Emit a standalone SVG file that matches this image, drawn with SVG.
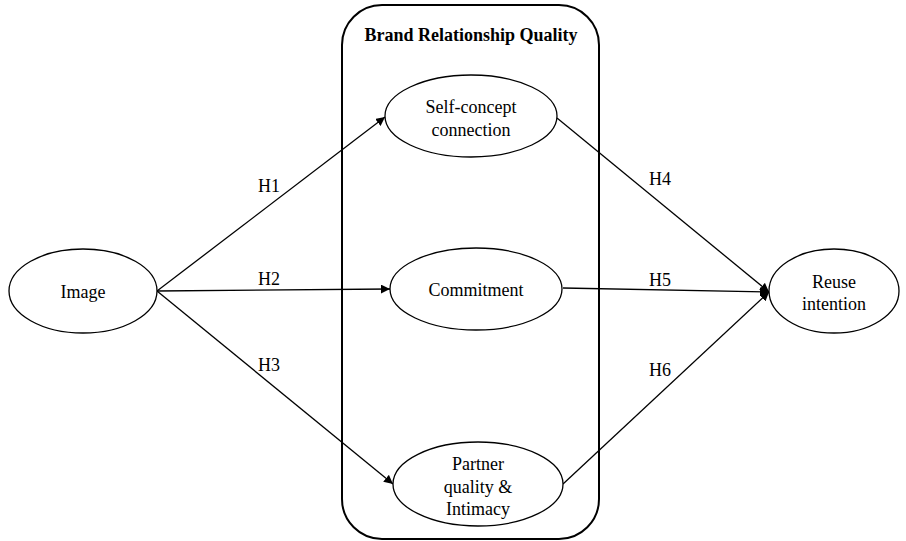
<svg xmlns="http://www.w3.org/2000/svg" width="906" height="541" viewBox="0 0 906 541">
<style>
.n{fill:#fff;stroke:#000;stroke-width:1.3}
.t{font-family:"Liberation Serif","Times New Roman",serif;font-size:18px;fill:#000;text-anchor:middle}
.c{stroke:#000;stroke-width:1.3;fill:none}
</style>
<defs>
<marker id="a" viewBox="0 0 10 10" refX="10" refY="5" markerWidth="9" markerHeight="9" markerUnits="userSpaceOnUse" orient="auto">
<path d="M0,0 L10,5 L0,10 z" fill="#000"/>
</marker>
</defs>
<rect width="906" height="541" fill="#fff"/>
<g id="brq">
<rect x="342" y="5" width="257" height="534" rx="40" ry="40" fill="none" stroke="#000" stroke-width="2"/>
<text class="t" x="471" y="41" font-weight="bold">Brand Relationship Quality</text>
</g>
<g id="connectors">
<line class="c" x1="157" y1="291" x2="385" y2="117" marker-end="url(#a)"/>
<line class="c" x1="157" y1="291" x2="390" y2="289" marker-end="url(#a)"/>
<line class="c" x1="157" y1="291" x2="393" y2="484" marker-end="url(#a)"/>
<line class="c" x1="557" y1="118" x2="769" y2="292" marker-end="url(#a)"/>
<line class="c" x1="563" y1="288" x2="769" y2="292" marker-end="url(#a)"/>
<line class="c" x1="563" y1="484" x2="769" y2="292" marker-end="url(#a)"/>
<text class="t" x="269" y="192">H1</text>
<text class="t" x="269" y="285">H2</text>
<text class="t" x="269" y="371">H3</text>
<text class="t" x="660" y="185">H4</text>
<text class="t" x="660" y="286">H5</text>
<text class="t" x="660" y="376">H6</text>
</g>
<g id="image">
<ellipse class="n" cx="83" cy="291" rx="74" ry="42"/>
<text class="t" x="83" y="298">Image</text>
</g>
<g id="self-concept">
<ellipse class="n" cx="471" cy="116" rx="86" ry="41"/>
<text class="t" x="471" y="113">Self-concept</text>
<text class="t" x="471" y="136">connection</text>
</g>
<g id="commitment">
<ellipse class="n" cx="476" cy="289" rx="86" ry="41"/>
<text class="t" x="476" y="296">Commitment</text>
</g>
<g id="partner">
<ellipse class="n" cx="478" cy="484" rx="85" ry="42"/>
<text class="t" x="478" y="470">Partner</text>
<text class="t" x="478" y="493">quality &amp;</text>
<text class="t" x="478" y="515">Intimacy</text>
</g>
<g id="reuse">
<ellipse class="n" cx="834" cy="291" rx="65" ry="42"/>
<text class="t" x="834" y="288">Reuse</text>
<text class="t" x="834" y="310">intention</text>
</g>
</svg>
